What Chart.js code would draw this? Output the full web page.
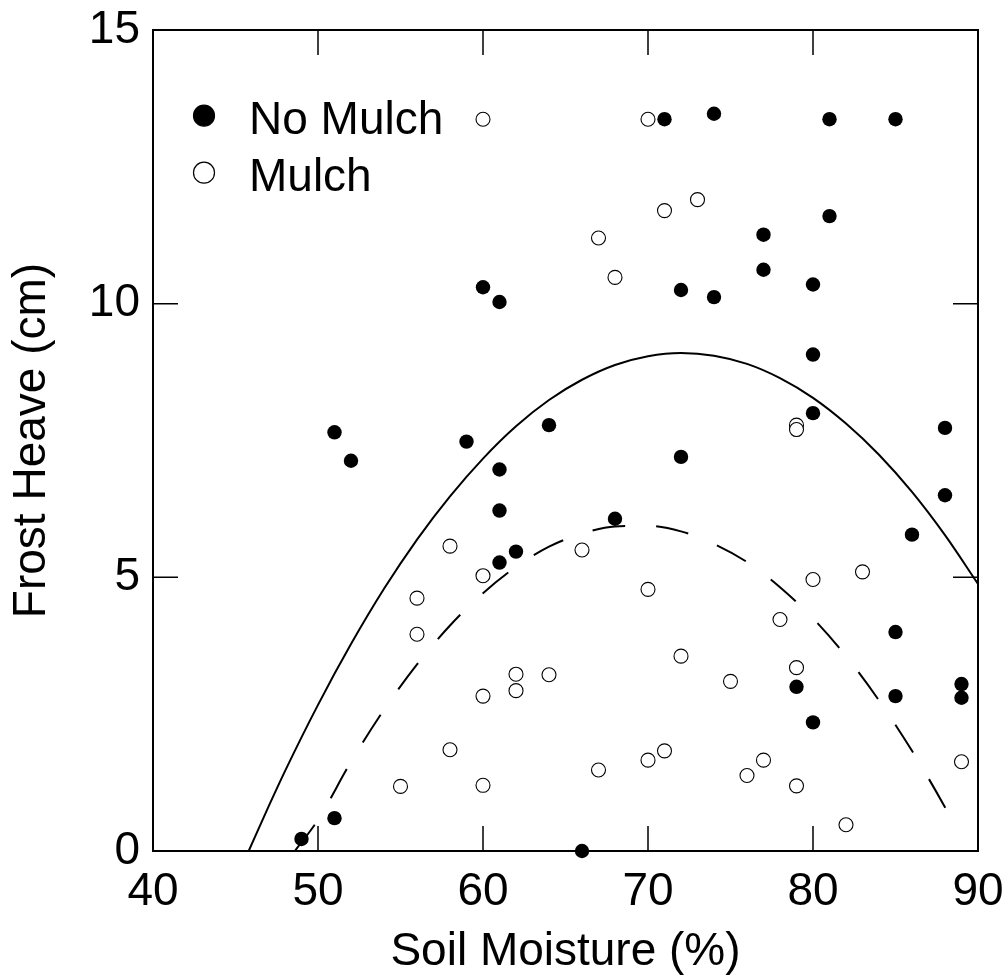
<!DOCTYPE html>
<html><head><meta charset="utf-8">
<script src="https://cdn.jsdelivr.net/npm/chart.js@4.4.1/dist/chart.umd.min.js"></script>
<style>html,body{margin:0;padding:0;background:#fff;}</style>
</head><body>
<canvas id="c" width="1008" height="980" style="width:1008px;height:980px;display:block"></canvas>
<script>
// ---- data ----
const xTickValues = [40, 50, 60, 70, 80, 90];
const yTickValues = [0, 5, 10, 15];
const seriesLabels = ['No Mulch', 'Mulch'];

const noMulchX = [49, 51, 51, 52, 59, 60, 61, 61, 61, 61, 62, 64, 66, 68, 71, 72, 72, 74, 74, 77, 77, 79, 80, 80, 80, 80, 81, 81, 85, 85, 85, 86, 88, 88, 89, 89];
const noMulchY = [0.22, 0.6, 7.65, 7.13, 7.48, 10.3, 10.03, 6.97, 6.22, 5.27, 5.47, 7.78, 0.0, 6.07, 13.37, 10.25, 7.2, 13.47, 10.12, 11.26, 10.62, 3.0, 10.35, 9.07, 8.0, 2.35, 13.37, 11.6, 13.37, 4.0, 2.83, 5.78, 7.73, 6.5, 3.05, 2.8];

const mulchX = [55, 56, 56, 58, 58, 60, 60, 60, 60, 62, 62, 64, 66, 67, 67, 68, 70, 70, 70, 71, 71, 72, 73, 75, 76, 77, 78, 79, 79, 79, 79, 80, 82, 83, 89];
const mulchY = [1.18, 4.62, 3.96, 5.57, 1.85, 13.37, 5.03, 2.83, 1.2, 3.23, 2.93, 3.22, 5.5, 11.2, 1.48, 10.48, 13.37, 4.78, 1.66, 11.7, 1.83, 3.56, 11.9, 3.1, 1.38, 1.66, 4.23, 7.78, 7.7, 3.35, 1.19, 4.96, 0.48, 5.1, 1.63];

// fitted curves
const fitNoMulchX = [45.8, 47, 48, 50, 52, 54, 56, 58, 60, 62, 64, 66, 68, 70, 72, 74, 76, 78, 80, 82, 84, 86, 88, 90];
const fitNoMulchY = [0, 0.81, 1.46, 2.67, 3.78, 4.79, 5.69, 6.48, 7.17, 7.76, 8.24, 8.61, 8.88, 9.04, 9.1, 9.05, 8.9, 8.64, 8.28, 7.81, 7.24, 6.56, 5.77, 4.88];

const fitMulchX = [48.6, 50, 52, 54, 56, 58, 60, 62, 64, 66, 68, 70, 72, 74, 76, 78, 80, 82, 84, 86, 88, 88.6];
const fitMulchY = [0, 0.57, 1.63, 2.58, 3.41, 4.12, 4.71, 5.19, 5.56, 5.8, 5.93, 5.94, 5.84, 5.61, 5.28, 4.82, 4.25, 3.56, 2.75, 1.83, 0.8, 0.46];

const zip = (xs, ys) => xs.map((v, i) => ({x: v, y: ys[i]}));

const FONT = "'Liberation Sans', Arial, Helvetica, sans-serif";
Chart.defaults.font.family = FONT;
Chart.defaults.color = '#000';

const framePlugin = {
  id: 'frame',
  afterDraw(chart) {
    const {ctx, chartArea: a, scales: {x, y}} = chart;
    ctx.save();
    ctx.strokeStyle = '#000';
    ctx.lineWidth = 1.5;
    const TL = 25;
    x.ticks.forEach((t, i) => {
      const px = x.getPixelForTick(i);
      ctx.beginPath();
      ctx.moveTo(px, a.bottom); ctx.lineTo(px, a.bottom - TL);
      ctx.moveTo(px, a.top); ctx.lineTo(px, a.top + TL);
      ctx.stroke();
    });
    y.ticks.forEach((t, i) => {
      const py = y.getPixelForTick(i);
      ctx.beginPath();
      ctx.moveTo(a.left, py); ctx.lineTo(a.left + TL, py);
      ctx.moveTo(a.right, py); ctx.lineTo(a.right - TL, py);
      ctx.stroke();
    });
    ctx.lineWidth = 2;
    ctx.strokeRect(a.left, a.top, a.right - a.left, a.bottom - a.top);

    // legend inside the plot area
    ctx.font = '46px ' + FONT;
    ctx.textBaseline = 'alphabetic';
    ctx.textAlign = 'left';
    const ds = chart.data.datasets;
    [0, 1].forEach((k, i) => {
      const cx = a.left + 51, cy = a.top + 85.7 + i * 57;
      ctx.beginPath();
      ctx.arc(cx, cy, 10.5, 0, Math.PI * 2);
      ctx.fillStyle = ds[k].pointBackgroundColor;
      ctx.fill();
      ctx.lineWidth = 1.2;
      ctx.strokeStyle = '#000';
      ctx.stroke();
      ctx.fillStyle = '#000';
      ctx.fillText(ds[k].label, a.left + 96, cy + 18);
    });
    ctx.restore();
  }
};

new Chart(document.getElementById('c'), {
  type: 'scatter',
  data: {
    datasets: [
      {label: seriesLabels[0], data: zip(noMulchX, noMulchY), pointRadius: 7.2, pointBackgroundColor: '#000', pointBorderColor: '#000', pointBorderWidth: 0, showLine: false, order: 0, clip: false},
      {label: seriesLabels[1], data: zip(mulchX, mulchY), pointRadius: 7, pointBackgroundColor: '#fff', pointBorderColor: '#000', pointBorderWidth: 1.1, showLine: false, order: 1, clip: false},
      {label: 'fit1', data: zip(fitNoMulchX, fitNoMulchY), showLine: true, pointRadius: 0, borderColor: '#000', borderWidth: 2, cubicInterpolationMode: 'monotone', order: 2},
      {label: 'fit2', data: zip(fitMulchX, fitMulchY), showLine: true, pointRadius: 0, borderColor: '#000', borderWidth: 2, borderDash: [33, 31], cubicInterpolationMode: 'monotone', order: 3}
    ]
  },
  options: {
    responsive: false,
    animation: false,
    devicePixelRatio: 1,
    layout: {padding: {left: 0, right: 30, top: 30, bottom: 0}},
    plugins: {legend: {display: false}, tooltip: {enabled: false}},
    scales: {
      x: {
        type: 'linear', min: 40, max: 90,
        afterBuildTicks: s => { s.ticks = xTickValues.map(v => ({value: v})); },
        afterFit: s => { s.height = 129; s.paddingLeft = 0; s.paddingRight = 0; },
        grid: {display: false, drawTicks: false},
        border: {display: false},
        ticks: {font: {size: 46}, padding: 14, color: '#000', maxRotation: 0},
        title: {display: true, text: 'Soil Moisture (%)', font: {size: 46}, color: '#000', padding: {top: 0, bottom: 0}}
      },
      y: {
        type: 'linear', min: 0, max: 15,
        afterBuildTicks: s => { s.ticks = yTickValues.map(v => ({value: v})); },
        afterFit: s => { s.width = 153; s.paddingTop = 0; s.paddingBottom = 0; },
        grid: {display: false, drawTicks: false},
        border: {display: false},
        ticks: {font: {size: 46}, padding: 13, color: '#000'},
        title: {display: true, text: 'Frost Heave (cm)', font: {size: 46}, color: '#000', padding: {top: 5, bottom: 0}}
      }
    }
  },
  plugins: [framePlugin]
});
</script>
</body></html>
